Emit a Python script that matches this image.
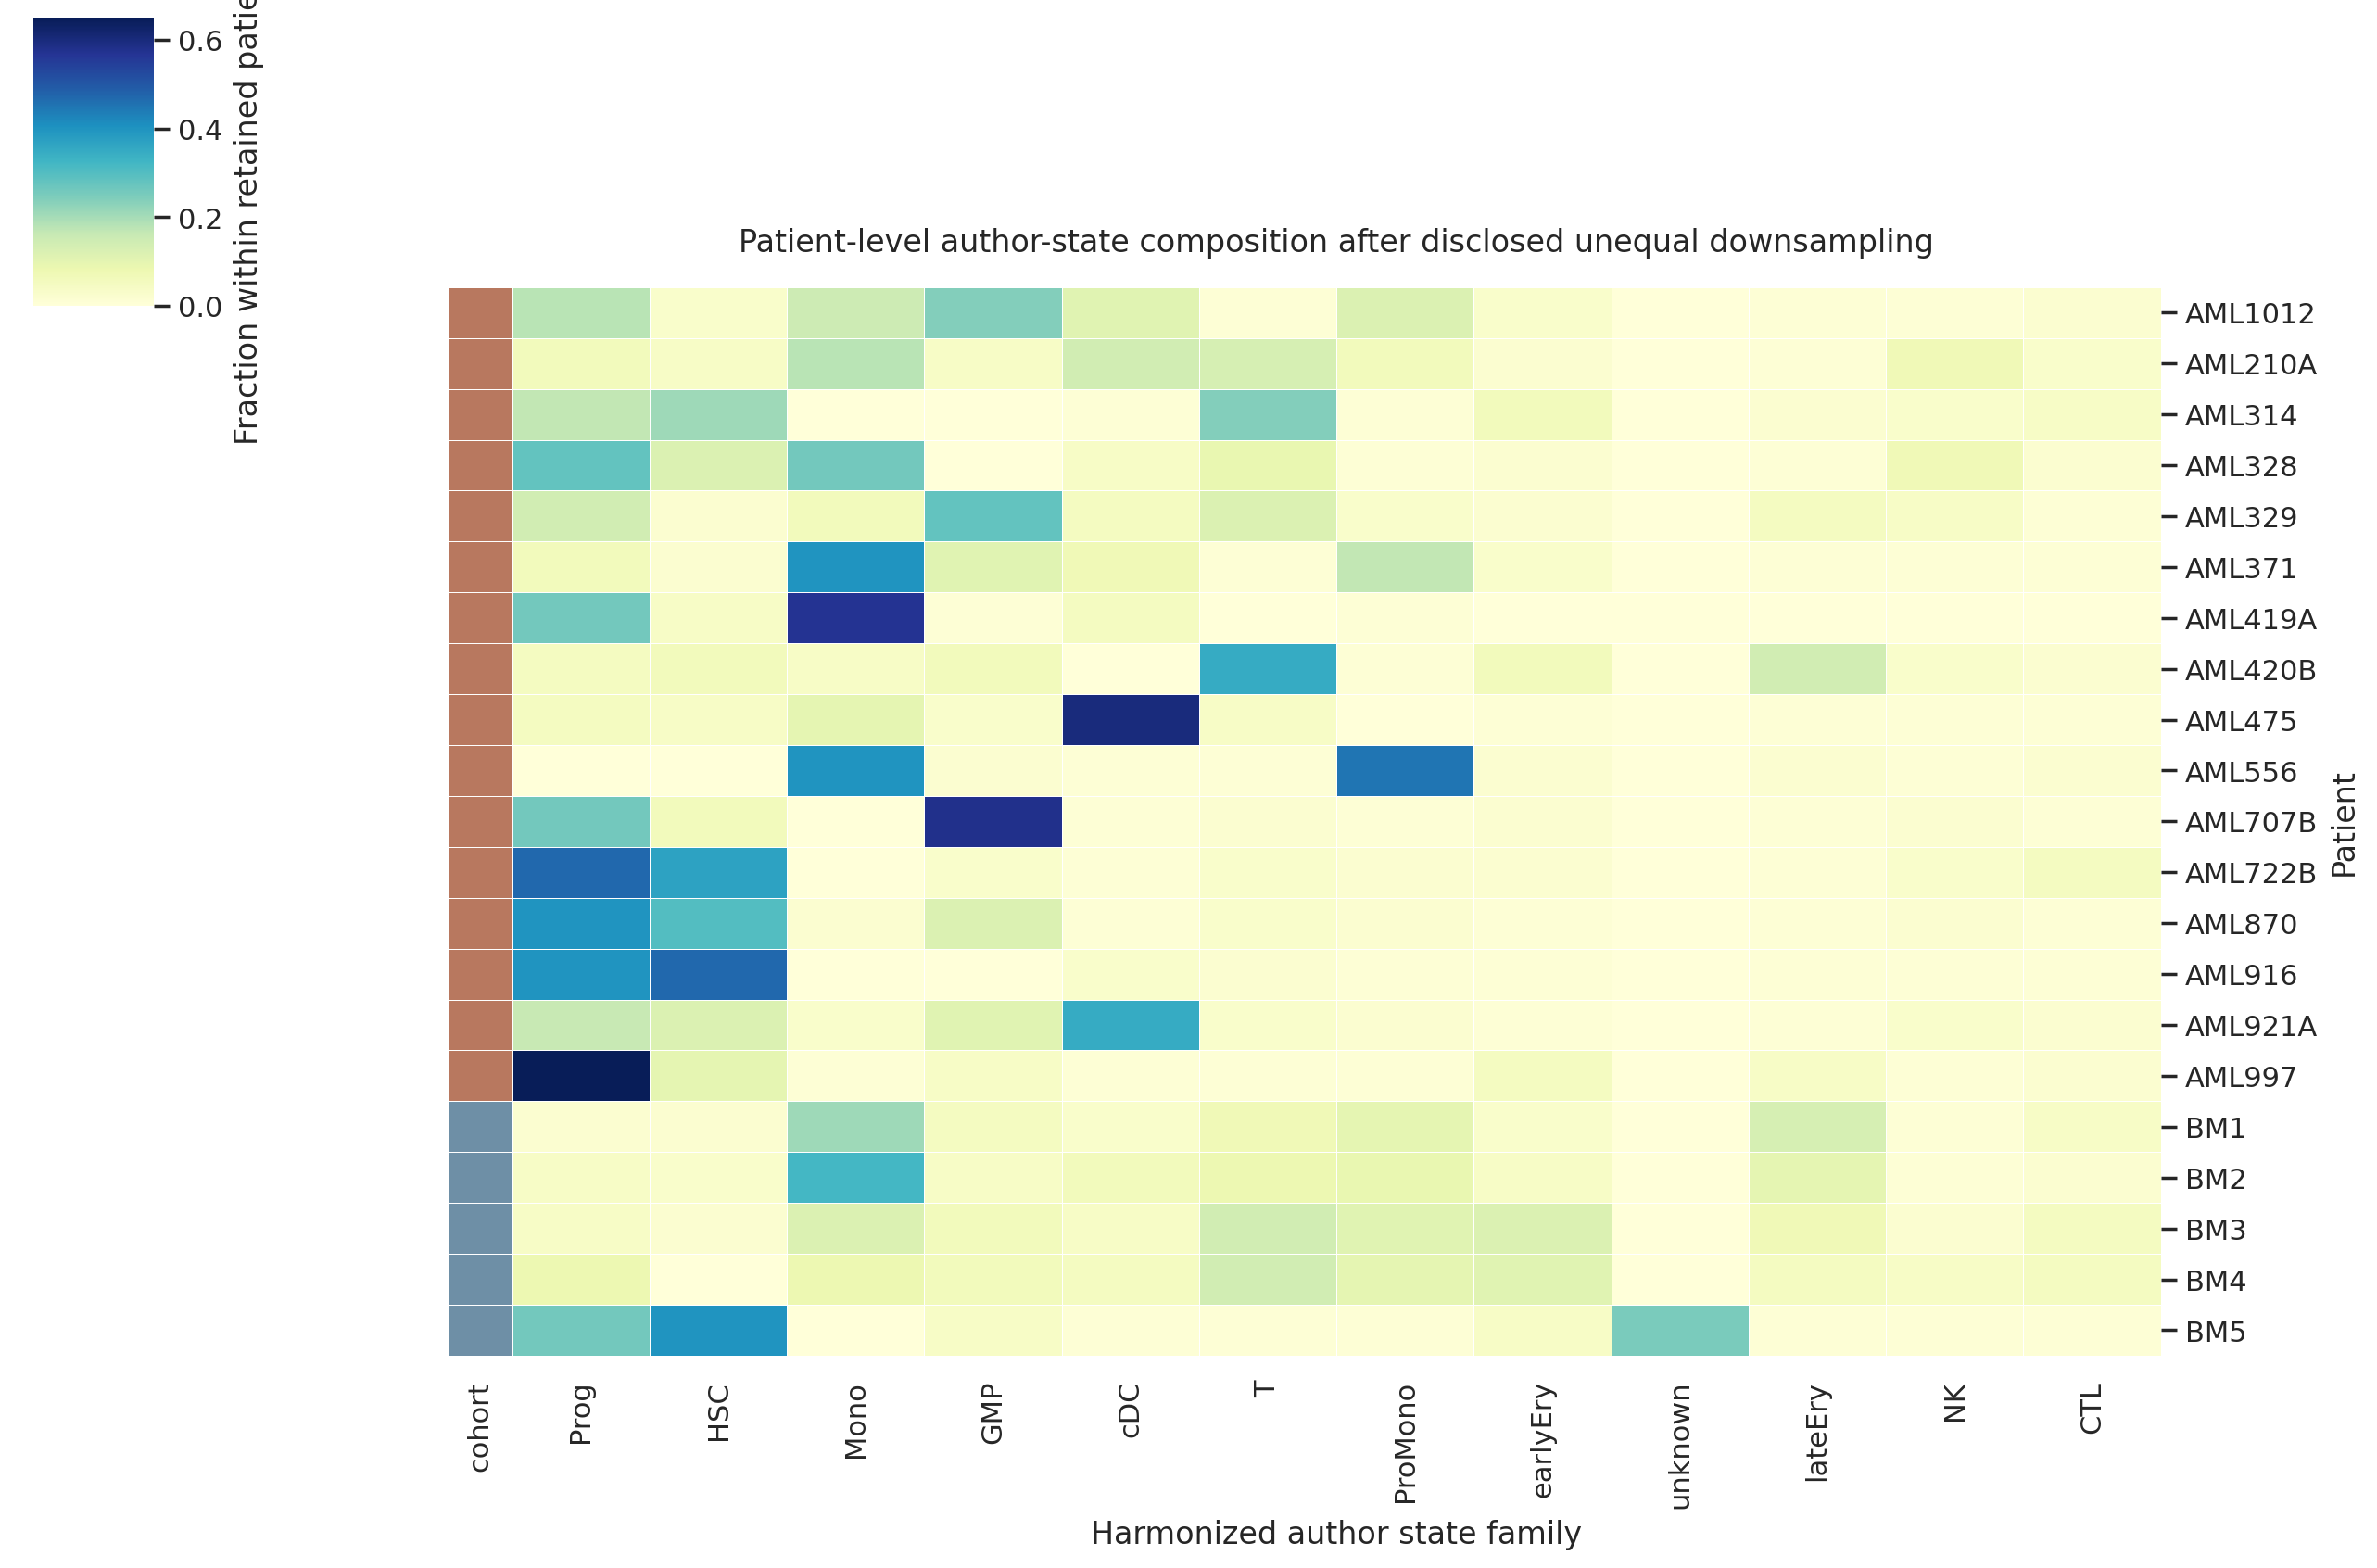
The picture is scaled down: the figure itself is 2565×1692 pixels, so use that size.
import numpy as np, pandas as pd, seaborn as sns, matplotlib
matplotlib.use("Agg")
import matplotlib.pyplot as plt

patients = ["AML1012","AML210A","AML314","AML328","AML329","AML371","AML419A","AML420B","AML475","AML556",
            "AML707B","AML722B","AML870","AML916","AML921A","AML997","BM1","BM2","BM3","BM4","BM5"]
states = ["Prog","HSC","Mono","GMP","cDC","T","ProMono","earlyEry","unknown","lateEry","NK","CTL"]
values = [
 [.18,.03,.15,.24,.11,.01,.12,.03,0,.01,.01,.02],
 [.06,.04,.18,.04,.14,.13,.06,.02,0,.01,.07,.03],
 [.17,.21,0,0,.01,.24,.01,.06,0,.02,.03,.04],
 [.28,.12,.26,0,.04,.09,.01,.02,0,.01,.07,.02],
 [.14,.02,.06,.28,.05,.12,.03,.02,0,.05,.04,.01],
 [.06,.02,.40,.11,.07,.01,.17,.03,0,.01,.01,.01],
 [.26,.04,.57,.01,.05,0,.01,0,0,0,0,0],
 [.05,.06,.04,.06,0,.35,.01,.06,0,.14,.03,.02],
 [.05,.04,.10,.03,.60,.04,0,.01,0,.01,.01,.01],
 [0,0,.40,.02,.01,.01,.45,.02,0,.02,.01,.02],
 [.26,.06,0,.58,.01,.02,.01,.02,0,.01,.02,.01],
 [.47,.37,0,.03,.01,.03,.02,.02,0,.01,.03,.05],
 [.40,.30,.02,.12,.01,.03,.02,.01,0,.01,.02,.01],
 [.40,.47,0,0,.03,.02,.01,.01,0,.01,.01,.01],
 [.16,.12,.03,.11,.35,.03,.02,.01,0,.01,.03,.02],
 [.65,.10,.01,.04,.01,.01,.01,.05,0,.04,.01,.02],
 [.02,.02,.21,.05,.03,.07,.10,.03,0,.13,.01,.04],
 [.04,.03,.32,.04,.06,.08,.09,.04,0,.10,.01,.02],
 [.04,.02,.12,.06,.04,.14,.11,.12,0,.07,.02,.05],
 [.08,0,.08,.06,.05,.14,.10,.11,0,.05,.04,.05],
 [.26,.40,0,.04,.01,.01,.01,.04,.25,.01,.01,.01],
]
cohort_colors = {"AML":"#b8785f","BM":"#6e8fa6"}

sns.set_theme(style="white")
df = pd.DataFrame(values, index=pd.Index(patients, name="Patient"),
                  columns=pd.Index(states, name="Harmonized author state family"))
rc = pd.Series([cohort_colors["BM" if p.startswith("BM") else "AML"] for p in patients],
               index=patients, name="cohort")
g = sns.clustermap(df, row_cluster=False, col_cluster=False, row_colors=rc, cmap="YlGnBu",
                   vmin=0, vmax=0.65, linewidths=0.3, linecolor="white",
                   figsize=(13, 8.63), cbar_kws={"label":"Fraction within retained patient cells"})
g.ax_heatmap.set_title("Patient-level author-state composition after disclosed unequal downsampling", pad=14)
g.ax_heatmap.tick_params(axis="y", rotation=0)
g.savefig("out.png", dpi=200)
